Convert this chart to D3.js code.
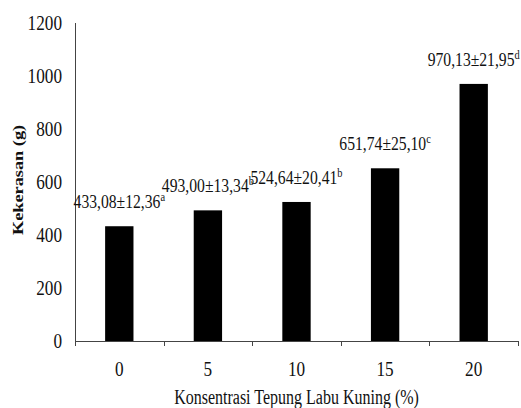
<!DOCTYPE html>
<html>
<head>
<meta charset="utf-8">
<script src="https://cdn.jsdelivr.net/npm/d3@7/dist/d3.min.js"></script>
<style>
  html, body { margin: 0; padding: 0; background: #fff; }
  svg { display: block; }
</style>
</head>
<body>
<svg id="chart" width="521" height="408" font-family="'Liberation Serif', 'Times New Roman', Times, serif"></svg>
<script>
// Hardness of the product at each pumpkin-flour concentration
const categories = ["0", "5", "10", "15", "20"];
const hardness = [433.08, 493.00, 524.64, 651.74, 970.13];
const stdDev = [12.36, 13.34, 20.41, 25.10, 21.95];
const groupLetters = ["a", "b", "b", "c", "d"];
const yTicks = [0, 200, 400, 600, 800, 1000, 1200];
const xTitle = "Konsentrasi Tepung Labu Kuning (%)";
const yTitle = "Kekerasan (g)";

const svg = d3.select("#chart");
const plotLeft = 75, plotRight = 518, plotTop = 23, plotBottom = 341;
const ink = "#111";

const x = d3.scaleBand().domain(categories).range([plotLeft, plotRight]).paddingInner(0.68).paddingOuter(0.34);
const y = d3.scaleLinear().domain([0, 1200]).range([plotBottom, plotTop]);

const fmt = v => v.toFixed(2).replace(".", ",");

// Bars
svg.append("g").selectAll("rect")
  .data(hardness)
  .join("rect")
  .attr("x", (d, i) => x(categories[i]))
  .attr("y", d => y(d))
  .attr("width", x.bandwidth())
  .attr("height", d => plotBottom - y(d))
  .attr("fill", "#000");

// Y axis: line and labels only
svg.append("line")
  .attr("x1", plotLeft + 0.5).attr("x2", plotLeft + 0.5)
  .attr("y1", plotTop).attr("y2", plotBottom)
  .attr("stroke", "#444").attr("stroke-width", 1);

svg.append("g").selectAll("text")
  .data(yTicks)
  .join("text")
  .attr("transform", d => `translate(62,${y(d)}) scale(0.86,1)`)
  .attr("text-anchor", "end")
  .attr("dy", "0.34em")
  .attr("fill", ink)
  .style("font-size", "20px")
  .text(d => d);

// X axis: line, ticks at category boundaries, labels
svg.append("line")
  .attr("x1", plotLeft).attr("x2", plotRight)
  .attr("y1", plotBottom + 0.5).attr("y2", plotBottom + 0.5)
  .attr("stroke", "#444").attr("stroke-width", 1);

const step = x.step();
const boundaries = d3.range(categories.length + 1).map(i => plotLeft + i * step);
svg.append("g").selectAll("line")
  .data(boundaries)
  .join("line")
  .attr("x1", d => Math.round(d) + 0.5).attr("x2", d => Math.round(d) + 0.5)
  .attr("y1", plotBottom).attr("y2", plotBottom + 5)
  .attr("stroke", "#444").attr("stroke-width", 1);

svg.append("g").selectAll("text")
  .data(categories)
  .join("text")
  .attr("transform", d => `translate(${x(d) + x.bandwidth() / 2},376) scale(0.86,1)`)
  .attr("text-anchor", "middle")
  .attr("fill", ink)
  .style("font-size", "20px")
  .text(d => d);

// Value labels with significance letters
const labels = svg.append("g").selectAll("text")
  .data(hardness)
  .join("text")
  .attr("transform", (d, i) => `translate(${x(categories[i]) + x.bandwidth() / 2},${y(d) - 18}) scale(0.87,1)`)
  .attr("text-anchor", "middle")
  .attr("fill", ink)
  .style("font-size", "18px");
labels.append("tspan").text((d, i) => `${fmt(d)}±${fmt(stdDev[i])}`);
labels.append("tspan")
  .attr("dy", -7)
  .style("font-size", "12px")
  .text((d, i) => groupLetters[i]);

// Axis titles
svg.append("text")
  .attr("transform", `translate(${(plotLeft + plotRight) / 2},404) scale(0.8,1)`)
  .attr("text-anchor", "middle")
  .attr("fill", ink)
  .style("font-size", "20px")
  .text(xTitle);

svg.append("text")
  .attr("transform", `translate(23,180) rotate(-90) scale(1.22,1)`)
  .attr("text-anchor", "middle")
  .attr("fill", ink)
  .style("font-size", "15px")
  .style("font-weight", "bold")
  .text(yTitle);
</script>
</body>
</html>
